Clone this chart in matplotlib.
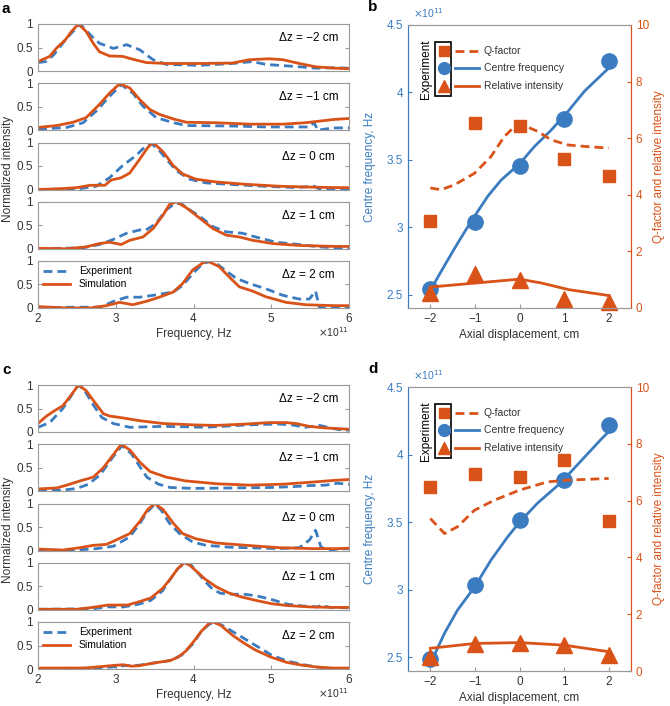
import matplotlib.pyplot as plt

plt.rcParams['font.family'] = ['Liberation Sans', 'DejaVu Sans']
plt.rcParams['font.size'] = 8.5

BLUE = '#3b7cc0'
ORANGE = '#d95319'
GREY = '#9a9a9a'
W, H = 670, 706

# ---- panel a: normalized spectra, (frequency x1e11 Hz, intensity) ----
shift_labels = ['\u0394z = \u22122 cm', '\u0394z = \u22121 cm', '\u0394z = 0 cm',
                '\u0394z = 1 cm', '\u0394z = 2 cm']

a_exp_m2 = [(2.0, 0.18), (2.1, 0.2), (2.2, 0.34), (2.37, 0.7), (2.54, 1.0), (2.69, 0.74),
            (2.79, 0.59), (2.97, 0.48), (3.14, 0.56), (3.31, 0.45), (3.48, 0.24), (3.65, 0.14),
            (4.08, 0.12), (4.5, 0.16), (4.76, 0.2), (4.93, 0.14), (5.36, 0.09), (5.57, 0.06),
            (5.81, 0.07), (6.0, 0.06)]
a_sim_m2 = [(2.0, 0.2), (2.15, 0.31), (2.24, 0.49), (2.35, 0.66), (2.43, 0.84), (2.52, 1.0),
            (2.62, 0.84), (2.71, 0.59), (2.79, 0.41), (2.92, 0.32), (3.09, 0.31), (3.22, 0.25),
            (3.39, 0.18), (3.65, 0.16), (4.1, 0.16), (4.5, 0.17), (4.72, 0.24), (4.97, 0.26),
            (5.15, 0.24), (5.36, 0.16), (5.57, 0.09), (5.81, 0.06), (6.0, 0.05)]
a_exp_m1 = [(2.0, 0.02), (2.37, 0.06), (2.58, 0.16), (2.75, 0.41), (2.92, 0.72), (3.07, 0.97),
            (3.22, 0.79), (3.35, 0.51), (3.52, 0.27), (3.74, 0.16), (3.91, 0.1), (4.5, 0.09),
            (4.93, 0.07), (5.49, 0.07), (5.55, 0.16), (5.6, 0.0), (5.79, 0.05), (6.0, 0.05)]
a_sim_m1 = [(2.0, 0.06), (2.24, 0.1), (2.45, 0.17), (2.62, 0.27), (2.79, 0.55), (2.92, 0.79),
            (3.05, 0.99), (3.18, 0.9), (3.31, 0.65), (3.44, 0.44), (3.56, 0.34), (3.74, 0.24),
            (3.91, 0.17), (4.29, 0.16), (4.72, 0.13), (5.15, 0.13), (5.44, 0.16), (5.81, 0.23),
            (6.0, 0.25)]
a_exp_0 = [(2.0, 0.0), (2.5, 0.01), (2.75, 0.07), (2.92, 0.25), (3.09, 0.51), (3.26, 0.72),
           (3.37, 0.9), (3.46, 0.98), (3.56, 0.83), (3.65, 0.65), (3.78, 0.4), (3.95, 0.22),
           (4.16, 0.14), (4.46, 0.11), (4.89, 0.07), (5.32, 0.04), (5.55, 0.07), (5.62, 0.01),
           (5.87, 0.01), (6.0, 0.02)]
a_sim_0 = [(2.0, 0.0), (2.32, 0.02), (2.5, 0.04), (2.67, 0.09), (2.75, 0.09), (2.86, 0.09),
           (2.94, 0.2), (3.07, 0.25), (3.18, 0.35), (3.31, 0.65), (3.41, 0.89), (3.48, 1.0),
           (3.61, 0.8), (3.74, 0.51), (3.86, 0.33), (4.03, 0.22), (4.29, 0.16), (4.68, 0.11),
           (5.1, 0.07), (5.53, 0.05), (5.87, 0.04), (6.0, 0.04)]
a_exp_p1 = [(2.0, 0.0), (2.58, 0.02), (2.79, 0.09), (2.97, 0.2), (3.14, 0.33), (3.31, 0.4),
            (3.39, 0.4), (3.52, 0.54), (3.65, 0.83), (3.76, 0.96), (3.84, 0.96), (3.95, 0.83),
            (4.08, 0.69), (4.25, 0.47), (4.42, 0.36), (4.63, 0.33), (4.8, 0.25), (5.06, 0.14),
            (5.36, 0.09), (5.62, 0.04), (5.81, 0.02), (6.0, 0.02)]
a_sim_p1 = [(2.0, 0.01), (2.37, 0.0), (2.62, 0.04), (2.79, 0.11), (2.92, 0.14), (3.07, 0.09),
            (3.18, 0.18), (3.35, 0.25), (3.48, 0.43), (3.61, 0.72), (3.69, 0.94), (3.78, 1.0),
            (3.91, 0.87), (4.08, 0.65), (4.25, 0.43), (4.42, 0.29), (4.59, 0.25), (4.76, 0.18),
            (5.02, 0.11), (5.36, 0.07), (5.81, 0.05), (6.0, 0.05)]
a_exp_p2 = [(2.0, 0.01), (2.8, 0.02), (2.97, 0.14), (3.14, 0.23), (3.31, 0.23), (3.48, 0.27),
            (3.74, 0.34), (3.86, 0.48), (3.99, 0.73), (4.12, 0.95), (4.25, 1.0), (4.38, 0.84),
            (4.55, 0.63), (4.72, 0.52), (4.93, 0.41), (5.15, 0.27), (5.36, 0.19), (5.49, 0.19),
            (5.57, 0.36), (5.62, 0.01), (5.81, 0.0), (6.0, 0.0)]
a_sim_p2 = [(2.0, 0.03), (2.37, 0.0), (2.67, 0.0), (2.88, 0.05), (3.05, 0.12), (3.22, 0.07),
            (3.39, 0.14), (3.56, 0.23), (3.74, 0.34), (3.86, 0.52), (3.99, 0.81), (4.12, 0.96),
            (4.18, 1.0), (4.33, 0.88), (4.46, 0.66), (4.59, 0.45), (4.76, 0.36), (4.93, 0.24),
            (5.19, 0.12), (5.44, 0.07), (5.81, 0.05), (6.0, 0.05)]

# ---- panel c ----
c_exp_m2 = [(2.0, 0.1), (2.15, 0.2), (2.32, 0.5), (2.43, 0.78), (2.52, 1.0), (2.6, 0.88),
            (2.71, 0.58), (2.82, 0.31), (2.97, 0.18), (3.18, 0.1), (3.61, 0.12), (4.16, 0.1),
            (4.68, 0.15), (5.1, 0.17), (5.27, 0.15), (5.44, 0.1), (5.62, 0.14), (5.87, 0.05),
            (6.0, 0.04)]
c_sim_m2 = [(2.0, 0.18), (2.11, 0.34), (2.22, 0.46), (2.32, 0.56), (2.41, 0.75), (2.52, 1.0),
            (2.62, 0.88), (2.73, 0.63), (2.84, 0.39), (2.92, 0.34), (3.09, 0.3), (3.31, 0.24),
            (3.61, 0.18), (4.03, 0.15), (4.29, 0.14), (4.68, 0.17), (4.97, 0.2), (5.19, 0.2),
            (5.32, 0.18), (5.49, 0.12), (5.66, 0.09), (5.87, 0.07), (6.0, 0.06)]
c_exp_m1 = [(2.0, 0.02), (2.3, 0.02), (2.5, 0.06), (2.65, 0.15), (2.8, 0.35), (2.95, 0.7),
            (3.08, 0.97), (3.2, 0.8), (3.3, 0.55), (3.4, 0.3), (3.55, 0.15), (3.7, 0.08),
            (4.0, 0.06), (4.5, 0.07), (5.0, 0.08), (5.3, 0.1), (5.5, 0.12), (5.7, 0.13),
            (5.85, 0.17), (6.0, 0.15)]
c_sim_m1 = [(2.0, 0.05), (2.24, 0.07), (2.37, 0.13), (2.54, 0.22), (2.71, 0.3), (2.84, 0.5),
            (2.97, 0.78), (3.07, 1.0), (3.18, 0.88), (3.31, 0.62), (3.44, 0.42), (3.65, 0.3),
            (3.9, 0.22), (4.29, 0.16), (4.72, 0.13), (5.15, 0.15), (5.57, 0.2), (5.8, 0.23),
            (6.0, 0.25)]
c_exp_0 = [(2.0, 0.01), (2.41, 0.0), (2.75, 0.04), (2.97, 0.09), (3.18, 0.29), (3.31, 0.58),
           (3.41, 0.83), (3.5, 0.98), (3.58, 0.87), (3.69, 0.58), (3.82, 0.36), (3.99, 0.18),
           (4.16, 0.11), (4.46, 0.07), (5.1, 0.04), (5.36, 0.06), (5.49, 0.22), (5.57, 0.43),
           (5.64, 0.07), (5.74, 0.01), (5.87, 0.03), (6.0, 0.04)]
c_sim_0 = [(2.0, 0.03), (2.32, 0.01), (2.54, 0.06), (2.71, 0.11), (2.88, 0.13), (3.0, 0.22),
           (3.18, 0.36), (3.31, 0.62), (3.41, 0.87), (3.5, 1.0), (3.61, 0.87), (3.74, 0.58),
           (3.86, 0.36), (4.03, 0.25), (4.29, 0.16), (4.68, 0.11), (5.1, 0.06), (5.53, 0.04),
           (5.87, 0.04), (6.0, 0.05)]
c_exp_p1 = [(2.0, 0.01), (2.7, 0.02), (2.9, 0.06), (3.1, 0.06), (3.3, 0.12), (3.45, 0.2),
            (3.6, 0.4), (3.7, 0.65), (3.8, 0.88), (3.9, 1.0), (3.97, 0.95), (4.05, 0.8),
            (4.15, 0.6), (4.25, 0.43), (4.35, 0.35), (4.5, 0.33), (4.65, 0.33), (4.8, 0.3),
            (5.0, 0.22), (5.2, 0.12), (5.4, 0.08), (5.6, 0.06), (5.65, 0.1), (5.75, 0.05),
            (6.0, 0.04)]
c_sim_p1 = [(2.0, 0.01), (2.5, 0.01), (2.7, 0.05), (2.9, 0.1), (3.0, 0.1), (3.15, 0.1),
            (3.3, 0.17), (3.45, 0.25), (3.6, 0.45), (3.7, 0.65), (3.8, 0.88), (3.88, 1.0),
            (3.95, 0.95), (4.05, 0.8), (4.15, 0.65), (4.3, 0.48), (4.45, 0.36), (4.6, 0.28),
            (4.8, 0.2), (5.0, 0.13), (5.2, 0.09), (5.5, 0.06), (5.8, 0.05), (6.0, 0.05)]
c_exp_p2 = [(2.0, 0.01), (2.8, 0.02), (3.0, 0.05), (3.1, 0.07), (3.3, 0.08), (3.5, 0.13),
            (3.7, 0.18), (3.85, 0.3), (4.0, 0.55), (4.1, 0.8), (4.2, 0.95), (4.28, 1.0),
            (4.4, 0.9), (4.55, 0.75), (4.7, 0.6), (4.85, 0.45), (5.0, 0.3), (5.2, 0.17),
            (5.45, 0.08), (5.6, 0.04), (5.7, 0.02), (6.0, 0.0)]
c_sim_p2 = [(2.0, 0.02), (2.4, 0.02), (2.6, 0.02), (2.8, 0.05), (3.0, 0.08), (3.1, 0.09),
            (3.2, 0.06), (3.3, 0.07), (3.5, 0.13), (3.7, 0.18), (3.8, 0.25), (3.9, 0.38),
            (4.0, 0.58), (4.1, 0.8), (4.2, 0.97), (4.25, 1.0), (4.35, 0.93), (4.5, 0.72),
            (4.65, 0.55), (4.8, 0.4), (5.0, 0.25), (5.2, 0.14), (5.4, 0.08), (5.6, 0.04),
            (5.8, 0.02), (6.0, 0.02)]

# ---- panels b and d: axial displacement (cm) ----
disp = [-2, -1, 0, 1, 2]

b_cf_exp = [2.54, 3.035, 3.45, 3.80, 4.23]
b_q_exp = [3.06, 6.55, 6.44, 5.26, 4.68]
b_ri_exp = [0.53, 1.21, 1.0, 0.32, 0.2]
b_cf_sim_x = [-1.95, -1.69, -1.46, -1.24, -1.01, -0.71, -0.41, 0.0, 0.34, 0.71, 1.09, 1.46, 1.84, 2.0]
b_cf_sim = [2.56, 2.71, 2.84, 2.96, 3.08, 3.23, 3.35, 3.47, 3.6, 3.72, 3.86, 4.01, 4.13, 4.18]
b_q_sim_x = [-2.0, -1.76, -1.46, -1.01, -0.64, -0.34, -0.11, 0.11, 0.41, 0.71, 1.09, 1.46, 2.0]
b_q_sim = [4.24, 4.18, 4.35, 4.76, 5.35, 6.06, 6.41, 6.44, 6.24, 5.94, 5.76, 5.71, 5.65]
b_ri_sim_x = [-2.0, -1.0, 0.0, 0.5, 1.1, 2.0]
b_ri_sim = [0.74, 0.88, 1.02, 0.88, 0.65, 0.44]

d_cf_exp = [2.49, 3.035, 3.515, 3.81, 4.22]
d_q_exp = [6.48, 6.95, 6.83, 7.42, 5.29]
d_ri_exp = [0.5, 0.95, 0.97, 0.91, 0.56]
d_cf_sim_x = [-1.95, -1.68, -1.39, -1.01, -0.64, -0.27, 0.0, 0.4, 0.92, 1.37, 1.82, 2.0]
d_cf_sim = [2.49, 2.68, 2.85, 3.02, 3.22, 3.39, 3.5, 3.64, 3.79, 3.95, 4.11, 4.17]
d_q_sim_x = [-2.0, -1.68, -1.39, -1.01, -0.57, 0.0, 0.63, 1.07, 2.0]
d_q_sim = [5.37, 4.84, 5.08, 5.66, 6.01, 6.37, 6.66, 6.72, 6.78]
d_ri_sim_x = [-2.0, -1.0, 0.0, 1.0, 2.0]
d_ri_sim = [0.8, 0.97, 1.0, 0.91, 0.68]


def style_box(ax):
    for sp in ax.spines.values():
        sp.set_color(GREY)
        sp.set_linewidth(0.8)
    ax.tick_params(direction='in', length=3, color=GREY, labelcolor='#333333')


def spectra_panel(fig, top0, exp_curves, sim_curves, letter):
    pitch = 59.25
    for i in range(5):
        top = top0 + i * pitch
        ax = fig.add_axes([38 / W, 1 - (top + 47) / H, 311 / W, 47 / H])
        f, v = zip(*exp_curves[i])
        ax.plot(f, v, color=BLUE, lw=2, ls=(0, (3.2, 1.8)), label='Experiment')
        f, v = zip(*sim_curves[i])
        ax.plot(f, v, color=ORANGE, lw=2, label='Simulation')
        ax.set_xlim(2, 6)
        ax.set_ylim(0, 1)
        ax.set_yticks([0, 0.5, 1])
        ax.set_yticklabels(['0', '0.5', '1'])
        style_box(ax)
        ax.tick_params(axis='y', right=True)
        ax.text(0.87, 0.7, shift_labels[i], transform=ax.transAxes,
                ha='center', va='center', fontsize=8.5)
        if i < 4:
            ax.set_xticks([])
        else:
            ax.set_xticks([2, 3, 4, 5, 6])
            ax.set_xlabel('Frequency, Hz', color='#333333', labelpad=2)
            ax.legend(loc='upper left', frameon=False, fontsize=7.5, handlelength=2.6,
                      borderaxespad=0.1, labelspacing=0.3)
            ax.text(1.0, -0.52, r'$\times$10$^{11}$', transform=ax.transAxes,
                    ha='right', va='center', fontsize=7.5, color='#333333')
    fig.text(8 / W, 1 - (top0 + 145) / H, 'Normalized intensity', rotation=90,
             ha='center', va='center', color='#333333')
    fig.text(2 / W, 1 - (top0 - 15) / H, letter, fontsize=11, fontweight='bold', va='center')


def summary_panel(fig, top, bottom, cf_exp, q_exp, ri_exp, cf_x, cf_sim, q_x, q_sim,
                  ri_x, ri_sim, letter):
    ax = fig.add_axes([408 / W, 1 - bottom / H, 223 / W, (bottom - top) / H])
    ax2 = ax.twinx()
    ax.plot(cf_x, cf_sim, color=BLUE, lw=2)
    ax.plot(disp, cf_exp, 'o', color=BLUE, ms=11, clip_on=False)
    ax2.plot(q_x, q_sim, color=ORANGE, lw=2, ls=(0, (3.2, 1.8)))
    ax2.plot(disp, q_exp, 's', color=ORANGE, ms=8.5, clip_on=False)
    ax2.plot(ri_x, ri_sim, color=ORANGE, lw=2)
    ax2.plot(disp, ri_exp, '^', color=ORANGE, ms=11, clip_on=False)

    ax.set_xlim(-2.5, 2.5)
    ax.set_xticks([-2, -1, 0, 1, 2])
    ax.set_xticklabels(['\u22122', '\u22121', '0', '1', '2'])
    ax.set_ylim(2.4, 4.5)
    ax.set_yticks([2.5, 3, 3.5, 4, 4.5])
    ax.set_yticklabels(['2.5', '3', '3.5', '4', '4.5'])
    ax2.set_ylim(0, 10)
    ax2.set_yticks([0, 2, 4, 6, 8, 10])

    for a in (ax, ax2):
        style_box(a)
        a.spines['left'].set_color(BLUE)
        a.spines['right'].set_color(ORANGE)
    ax.tick_params(axis='y', colors=BLUE, labelcolor=BLUE)
    ax2.tick_params(axis='y', colors=ORANGE, labelcolor=ORANGE)
    ax.set_xlabel('Axial displacement, cm', color='#333333', labelpad=3)
    ax.set_ylabel('Centre frequency, Hz', color=BLUE, labelpad=8)
    ax2.set_ylabel('Q-factor and relative intensity', color=ORANGE, labelpad=3)
    fig.text(413 / W, 1 - (top - 12) / H, r'$\times$10$^{11}$', color=BLUE,
             fontsize=7.5, va='center')
    fig.text(368 / W, 1 - (top - 18) / H, letter, fontsize=11, fontweight='bold', va='center')

    # legend block
    tr = ax2.transAxes
    rows = [(0.909, 's', 6.5, (0, (3.2, 1.8)), 'Q-factor'),
            (0.847, 'o', 8.5, '-', 'Centre frequency'),
            (0.785, '^', 8.5, '-', 'Relative intensity')]
    for y, mk, ms, ls, lab in rows:
        col = BLUE if mk == 'o' else ORANGE
        ax2.plot([0.16], [y], mk, color=col, ms=ms, transform=tr, clip_on=False)
        ax2.plot([0.212, 0.317], [y, y], color=col, lw=2, ls=ls, transform=tr)
        ax2.text(0.339, y, lab, transform=tr, va='center', fontsize=7.5, color='#333333')
    ax2.add_patch(plt.Rectangle((0.123, 0.749), 0.07, 0.192, transform=tr, fill=False,
                                ec='black', lw=1.2))
    ax2.text(0.08, 0.845, 'Experiment', transform=tr, rotation=90, ha='center',
             va='center', fontsize=8.5)


fig = plt.figure(figsize=(W / 100, H / 100), dpi=100)

spectra_panel(fig, 24, [a_exp_m2, a_exp_m1, a_exp_0, a_exp_p1, a_exp_p2],
              [a_sim_m2, a_sim_m1, a_sim_0, a_sim_p1, a_sim_p2], 'a')
spectra_panel(fig, 385, [c_exp_m2, c_exp_m1, c_exp_0, c_exp_p1, c_exp_p2],
              [c_sim_m2, c_sim_m1, c_sim_0, c_sim_p1, c_sim_p2], 'c')

summary_panel(fig, 25, 308, b_cf_exp, b_q_exp, b_ri_exp, b_cf_sim_x, b_cf_sim,
              b_q_sim_x, b_q_sim, b_ri_sim_x, b_ri_sim, 'b')
summary_panel(fig, 387, 671, d_cf_exp, d_q_exp, d_ri_exp, d_cf_sim_x, d_cf_sim,
              d_q_sim_x, d_q_sim, d_ri_sim_x, d_ri_sim, 'd')

fig.savefig('out.png', dpi=100)
